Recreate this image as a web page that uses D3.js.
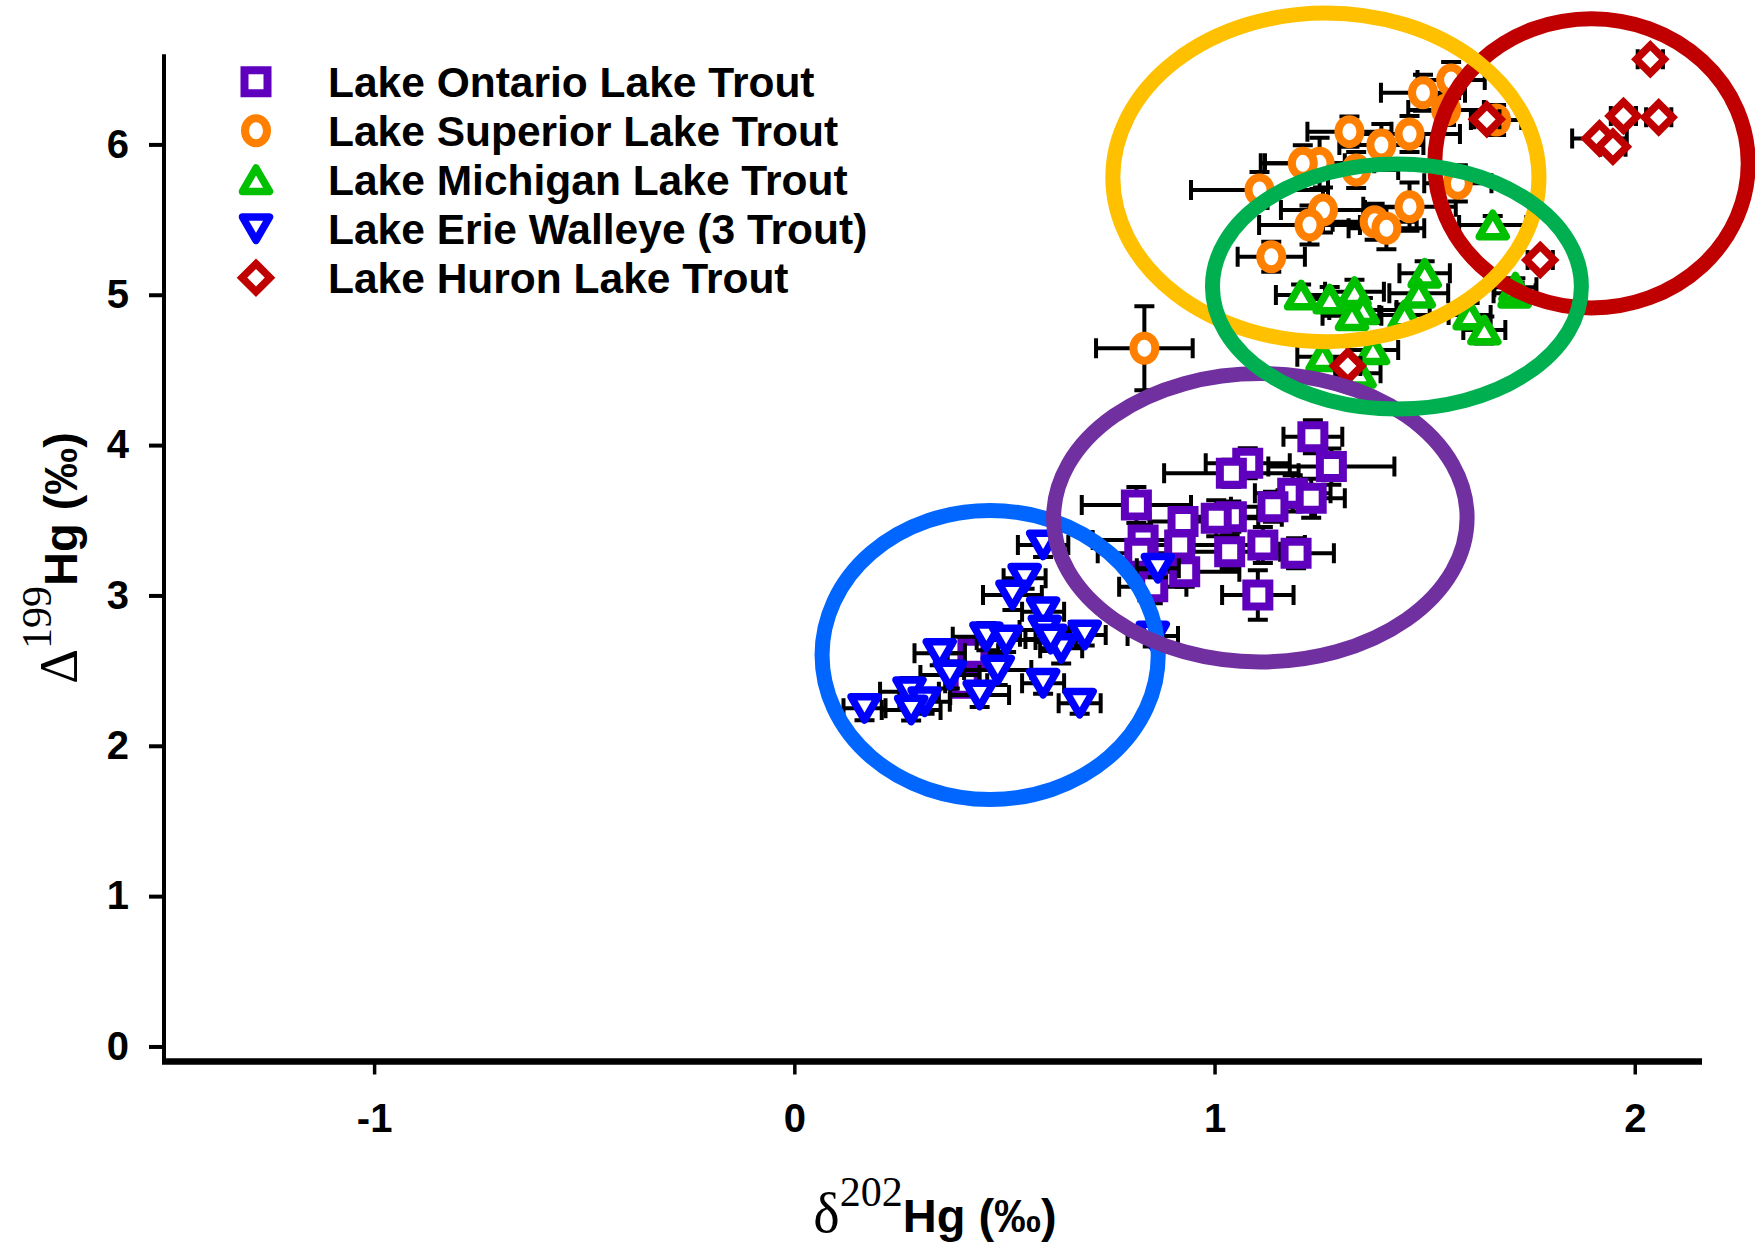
<!DOCTYPE html>
<html><head><meta charset="utf-8">
<script src="https://cdn.jsdelivr.net/npm/d3@7"></script>
<style>
html,body{margin:0;padding:0;background:#fff;}
svg{display:block;}
</style></head>
<body>
<svg id="chart" width="1755" height="1254"></svg>
<script>
// ---------- data ----------
const xTicks = [-1, 0, 1, 2];
const yTicks = [0, 1, 2, 3, 4, 5, 6];
const seriesNames = ["Lake Ontario Lake Trout", "Lake Superior Lake Trout", "Lake Michigan Lake Trout", "Lake Erie Walleye (3 Trout)", "Lake Huron Lake Trout"];

const ontarioX    = [1.234, 1.278, 1.079, 1.040, 1.186, 1.230, 1.139, 0.814, 1.040, 1.004, 0.925, 0.830, 0.917, 1.036, 1.115, 1.194, 0.822, 0.929, 0.853, 1.103, 0.425, 0.409];
const ontarioY    = [4.056, 3.857, 3.879, 3.813, 3.679, 3.646, 3.590, 3.602, 3.524, 3.513, 3.491, 3.369, 3.336, 3.291, 3.336, 3.280, 3.280, 3.158, 3.058, 3.003, 2.615, 2.416];
const ontarioXErr = [0.07, 0.15, 0.10, 0.16, 0.09, 0.08, 0.10, 0.13, 0.12, 0.10, 0.08, 0.12, 0.11, 0.12, 0.10, 0.09, 0.10, 0.13, 0.08, 0.085, 0.06, 0.05];
const ontarioYErr = [0.11, 0.12, 0.10, 0.09, 0.12, 0.13, 0.10, 0.12, 0.10, 0.12, 0.08, 0.10, 0.12, 0.11, 0.12, 0.10, 0.12, 0.10, 0.11, 0.165, 0.08, 0.08];

const superiorX    = [1.496, 1.563, 1.321, 1.464, 1.397, 1.250, 1.210, 1.551, 1.579, 1.107, 1.258, 1.226, 1.464, 1.381, 1.409, 1.135, 0.833, 1.670, 1.337];
const superiorY    = [6.344, 6.428, 6.085, 6.069, 5.996, 5.874, 5.874, 6.229, 5.741, 5.697, 5.564, 5.464, 5.586, 5.486, 5.442, 5.253, 4.644, 6.162, 5.830];
const superiorXErr = [0.10, 0.08, 0.10, 0.12, 0.10, 0.13, 0.10, 0.09, 0.08, 0.163, 0.10, 0.12, 0.11, 0.10, 0.09, 0.08, 0.115, 0.06, 0.10];
const superiorYErr = [0.12, 0.12, 0.10, 0.12, 0.14, 0.17, 0.12, 0.10, 0.12, 0.12, 0.15, 0.13, 0.16, 0.12, 0.14, 0.10, 0.28, 0.10, 0.12];

const michiganX    = [1.206, 1.333, 1.500, 1.486, 1.607, 1.642, 1.452, 1.274, 1.353, 1.257, 1.377, 1.345, 1.714, 1.662, 1.716, 1.327];
const michiganY    = [4.998, 5.020, 5.143, 5.010, 4.865, 4.765, 4.865, 4.971, 4.899, 4.588, 4.633, 4.478, 5.010, 5.464, 5.050, 4.860];
const michiganXErr = [0.06, 0.07, 0.06, 0.07, 0.05, 0.05, 0.06, 0.06, 0.08, 0.06, 0.06, 0.05, 0.05, 0.08, 0.05, 0.07];
const michiganYErr = [0.07, 0.08, 0.08, 0.07, 0.08, 0.09, 0.07, 0.08, 0.08, 0.08, 0.08, 0.08, 0.07, 0.06, 0.06, 0.08];

const erieX    = [0.592, 0.548, 0.519, 0.592, 0.596, 0.635, 0.691, 0.457, 0.504, 0.484, 0.441, 0.346, 0.370, 0.592, 0.679, 0.167, 0.274, 0.310, 0.278, 0.865, 0.853, 0.610];
const erieY    = [3.336, 3.114, 3.003, 2.892, 2.770, 2.648, 2.737, 2.726, 2.704, 2.504, 2.338, 2.615, 2.471, 2.416, 2.283, 2.249, 2.360, 2.293, 2.238, 3.181, 2.730, 2.710];
const erieXErr = [0.06, 0.05, 0.07, 0.05, 0.06, 0.05, 0.05, 0.08, 0.07, 0.08, 0.07, 0.06, 0.07, 0.05, 0.05, 0.05, 0.07, 0.06, 0.07, 0.05, 0.06, 0.06];
const erieYErr = [0.08, 0.07, 0.10, 0.06, 0.08, 0.10, 0.07, 0.09, 0.08, 0.10, 0.08, 0.08, 0.09, 0.07, 0.07, 0.08, 0.09, 0.08, 0.07, 0.06, 0.07, 0.08];

const huronX    = [2.037, 1.973, 2.057, 1.916, 1.948, 1.648, 1.775, 1.317];
const huronY    = [6.566, 6.189, 6.180, 6.040, 5.985, 6.167, 5.231, 4.526];
const huronXErr = [0.03, 0.03, 0.03, 0.065, 0.03, 0.03, 0.03, 0.03];
const huronYErr = [0.05, 0.05, 0.05, 0.04, 0.04, 0.05, 0.05, 0.05];

// group ellipses (data units): centre x, centre y, radius x, radius y
const ellipseNames = ["Erie", "Ontario", "Huron", "Superior", "Michigan"];
const ellipseCX = [0.466, 1.109, 1.897, 1.265, 1.434];
const ellipseCY = [2.604, 3.517, 5.874, 5.781, 5.055];
const ellipseRX = [0.400, 0.492, 0.373, 0.507, 0.439];
const ellipseRY = [0.961, 0.959, 0.962, 1.093, 0.815];

// ---------- styles ----------
const seriesColors = ["#5f00bf", "#ff8000", "#00c000", "#0000ff", "#c00000"];
const seriesShapes = ["square", "circle", "triUp", "triDown", "diamond"];
const ellipseColors = ["#0066ff", "#7030a0", "#c00000", "#ffc000", "#00b050"];

const x = d3.scaleLinear().domain([-1.5, 2.16]).range([164, 1702]);
const y = d3.scaleLinear().domain([-0.1, 6.6]).range([1061.5, 54.2]);

const svg = d3.select("#chart");
const sans = "'Liberation Sans', Arial, sans-serif";
const serif = "'Liberation Serif', 'Times New Roman', serif";

function shapePath(shape) {
  if (shape === "square") { const s = 11.5; return `M${-s},${-s}H${s}V${s}H${-s}Z`; }
  if (shape === "circle") { const rx = 11, ry = 12.5; return `M${-rx},0A${rx},${ry} 0 1,0 ${rx},0A${rx},${ry} 0 1,0 ${-rx},0Z`; }
  if (shape === "triUp") { const s = 27, h = s * 0.866; return `M0,${-h/2}L${s/2},${h/2}L${-s/2},${h/2}Z`; }
  if (shape === "triDown") { const s = 27, h = s * 0.866; return `M0,${h/2}L${s/2},${-h/2}L${-s/2},${-h/2}Z`; }
  if (shape === "diamond") { const d = 14; return `M0,${-d}L${d},0L0,${d}L${-d},0Z`; }
}
function strokeW(shape) { return shape === "circle" || shape === "square" ? 8 : 7.5; }

const series = [
  {x: ontarioX, y: ontarioY, xe: ontarioXErr, ye: ontarioYErr},
  {x: superiorX, y: superiorY, xe: superiorXErr, ye: superiorYErr},
  {x: michiganX, y: michiganY, xe: michiganXErr, ye: michiganYErr},
  {x: erieX, y: erieY, xe: erieXErr, ye: erieYErr},
  {x: huronX, y: huronY, xe: huronXErr, ye: huronYErr}
].map((s, i) => ({
  name: seriesNames[i], color: seriesColors[i], shape: seriesShapes[i],
  points: s.x.map((v, j) => ({x: v, y: s.y[j], xe: s.xe[j], ye: s.ye[j]}))
}));

// ---------- axes ----------
const yAxis = d3.axisLeft(y).tickValues(yTicks).tickSize(15).tickPadding(20).tickFormat(d3.format("d"));
const xAxis = d3.axisBottom(x).tickValues(xTicks).tickSize(13).tickPadding(29)
  .tickFormat(d => d < 0 ? "-" + Math.abs(d) : String(d));

const gy = svg.append("g").attr("transform", `translate(${x(-1.5)},0)`).call(yAxis);
gy.select(".domain").remove();
gy.selectAll(".tick line").attr("stroke", "#000").attr("stroke-width", 4);
gy.selectAll(".tick text").attr("font-family", sans).attr("font-weight", "bold").attr("font-size", 40).attr("fill", "#000");
gy.append("line").attr("x1", 0).attr("x2", 0).attr("y1", y(6.6)).attr("y2", y(-0.1)).attr("stroke", "#000").attr("stroke-width", 4);

const gx = svg.append("g").attr("transform", `translate(0,${y(-0.1)})`).call(xAxis);
gx.select(".domain").remove();
gx.selectAll(".tick line").attr("stroke", "#000").attr("stroke-width", 3.5);
gx.selectAll(".tick text").attr("font-family", sans).attr("font-weight", "bold").attr("font-size", 40).attr("fill", "#000");
gx.append("line").attr("x1", x(-1.5) - 2).attr("x2", x(2.16)).attr("y1", 0).attr("y2", 0).attr("stroke", "#000").attr("stroke-width", 6.5);

// axis titles
const xt = svg.append("text").attr("x", (x(-1.5) + x(2.16)) / 2 + 2).attr("y", 1232).attr("text-anchor", "middle").attr("fill", "#000");
xt.append("tspan").attr("font-family", serif).attr("font-size", 56).text("δ");
xt.append("tspan").attr("font-family", serif).attr("font-size", 42).attr("dy", -26).text("202");
xt.append("tspan").attr("font-family", sans).attr("font-weight", "bold").attr("font-size", 47).attr("dy", 26).text("Hg (‰)");

const yt = svg.append("text").attr("transform", `translate(77,${(y(6.6) + y(-0.1)) / 2}) rotate(-90)`).attr("text-anchor", "middle").attr("fill", "#000");
yt.append("tspan").attr("font-family", serif).attr("font-size", 54).text("Δ");
yt.append("tspan").attr("font-family", serif).attr("font-size", 42).attr("dy", -26).text("199");
yt.append("tspan").attr("font-family", sans).attr("font-weight", "bold").attr("font-size", 47).attr("dy", 26).text("Hg (‰)");

// ---------- error bars + markers ----------
const cap = 10;
series.forEach(s => {
  const g = svg.append("g");
  const eb = g.append("g").attr("stroke", "#000").attr("stroke-width", 4).attr("fill", "none");
  s.points.forEach(p => {
    const cx = x(p.x), cy = y(p.y);
    const x0 = x(p.x - p.xe), x1 = x(p.x + p.xe), y0 = y(p.y - p.ye), y1 = y(p.y + p.ye);
    eb.append("path").attr("d",
      `M${x0},${cy}H${x1}M${x0},${cy - cap}V${cy + cap}M${x1},${cy - cap}V${cy + cap}` +
      `M${cx},${y0}V${y1}M${cx - cap},${y0}H${cx + cap}M${cx - cap},${y1}H${cx + cap}`);
  });
  g.selectAll("path.m").data(s.points).enter().append("path").attr("class", "m")
    .attr("d", shapePath(s.shape))
    .attr("transform", d => `translate(${x(d.x)},${y(d.y)})`)
    .attr("fill", "#fff").attr("stroke", s.color).attr("stroke-width", strokeW(s.shape))
    .attr("stroke-linejoin", s.shape.startsWith("tri") ? "round" : "miter");
});

// ---------- ellipses ----------
svg.append("g").selectAll("ellipse").data(ellipseNames).enter().append("ellipse")
  .attr("cx", (d, i) => x(ellipseCX[i]))
  .attr("cy", (d, i) => y(ellipseCY[i]))
  .attr("rx", (d, i) => x(ellipseCX[i] + ellipseRX[i]) - x(ellipseCX[i]))
  .attr("ry", (d, i) => y(ellipseCY[i] - ellipseRY[i]) - y(ellipseCY[i]))
  .attr("fill", "none").attr("stroke", (d, i) => ellipseColors[i]).attr("stroke-width", 15);

// ---------- legend ----------
const legend = svg.append("g");
series.forEach((s, i) => {
  const ly = 81.7 + i * 49;
  legend.append("path").attr("d", shapePath(s.shape)).attr("transform", `translate(256,${ly})`)
    .attr("fill", "#fff").attr("stroke", s.color).attr("stroke-width", strokeW(s.shape))
    .attr("stroke-linejoin", s.shape.startsWith("tri") ? "round" : "miter");
  legend.append("text").attr("x", 328).attr("y", ly + 15).attr("font-family", sans).attr("font-weight", "bold")
    .attr("font-size", 42.5).attr("fill", "#000").text(s.name);
});
</script>
</body></html>
